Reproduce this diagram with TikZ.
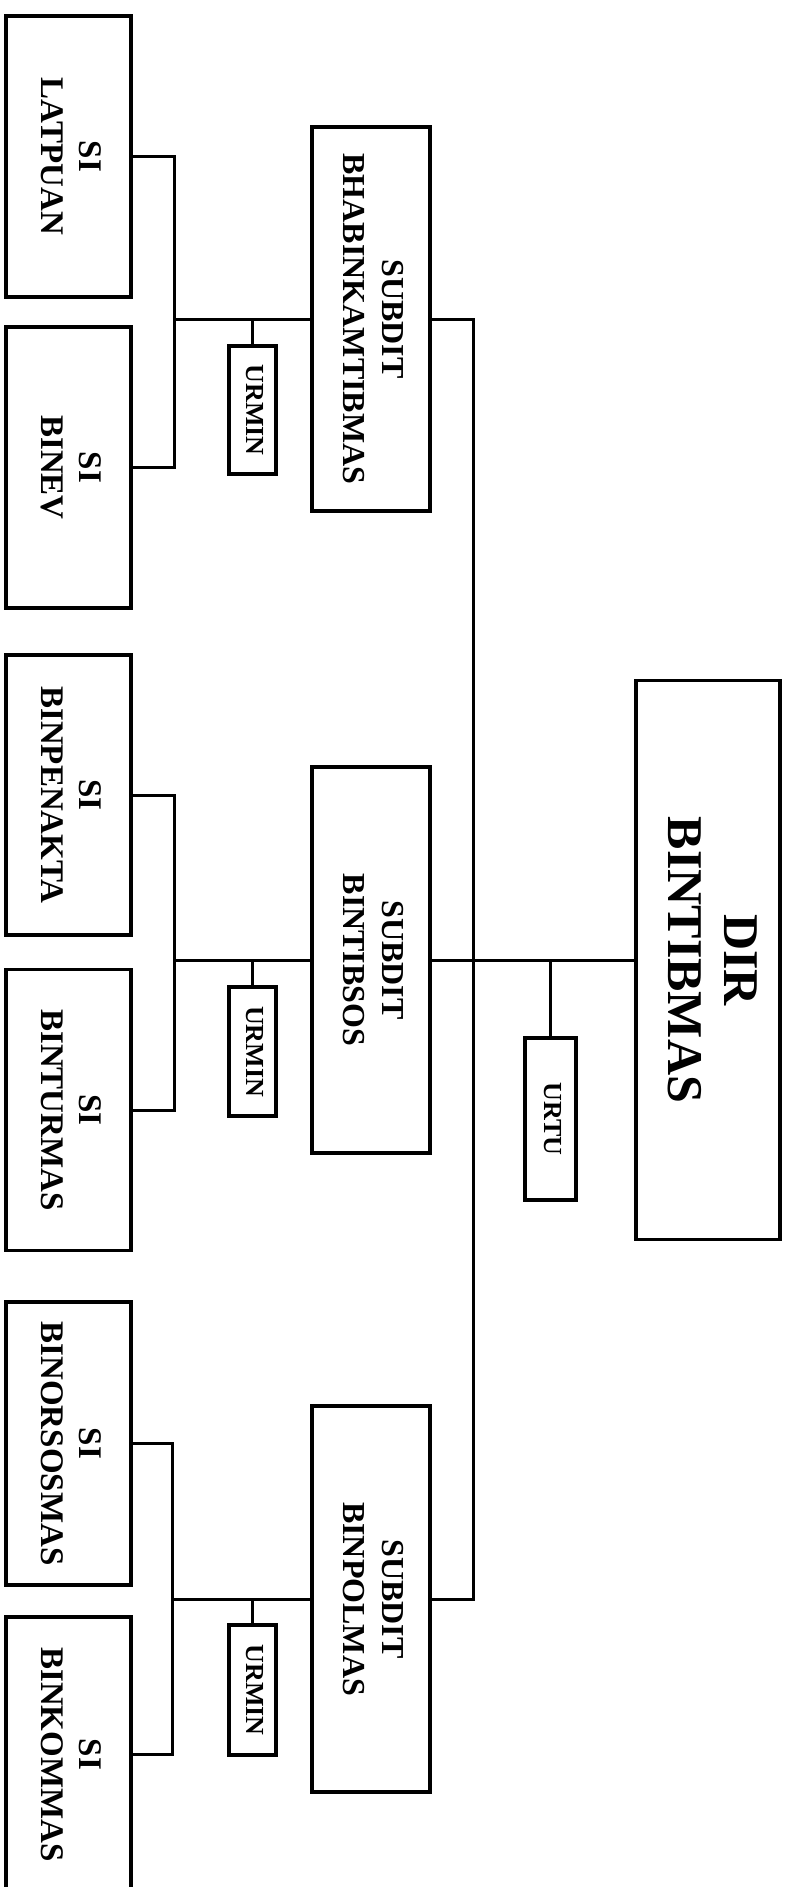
\documentclass[tikz,border=0pt]{standalone}
\usepackage{fontspec}
\setmainfont{Liberation Serif}
\usepackage{graphicx}
\newcommand\vtxt[3]{\rotatebox{-90}{\fontsize{#1}{#2}\selectfont\bfseries\begin{tabular}{@{}c@{}}#3\end{tabular}}}
\begin{document}
\begin{tikzpicture}[x=1pt,y=-1pt,
  box/.style={draw=black,line width=3.5pt,fill=white,inner sep=0pt,rectangle},
  ln/.style={line width=3pt,draw=black}]
\useasboundingbox (0,0) rectangle (787,1887);
\clip (0,0) rectangle (787,1887);
% Group 1
\node[box,minimum width=125pt,minimum height=281pt] (latpuan) at (68.5,156.5) {\vtxt{33}{38}{SI\\LATPUAN}};
\node[box,minimum width=125pt,minimum height=281pt] (binev) at (68.5,467.5) {\vtxt{33}{38}{SI\\BINEV}};
\node[box,minimum width=118pt,minimum height=384pt] (sub1) at (371,319) {\vtxt{32}{39}{SUBDIT\\BHABINKAMTIBMAS}};
\node[box,minimum width=47pt,minimum height=128pt] (urmin1) at (252.5,410) {\vtxt{26}{30}{URMIN}};
% Group 2
\node[box,minimum width=125pt,minimum height=280pt] (binpenakta) at (68.5,795) {\vtxt{33}{38}{SI\\BINPENAKTA}};
\node[box,minimum width=125pt,minimum height=281pt] (binturmas) at (68.5,1110) {\vtxt{33}{38}{SI\\BINTURMAS}};
\node[box,minimum width=118pt,minimum height=386pt] (sub2) at (371,960) {\vtxt{32}{39}{SUBDIT\\BINTIBSOS}};
\node[box,minimum width=47pt,minimum height=129pt] (urmin2) at (252.5,1051.5) {\vtxt{26}{30}{URMIN}};
\node[box,minimum width=144pt,minimum height=559pt] (dir) at (708,960) {\vtxt{50}{56}{DIR\\BINTIBMAS}};
\node[box,minimum width=51pt,minimum height=162pt] (urtu) at (550.5,1119) {\vtxt{26}{30}{URTU}};
% Group 3
\node[box,minimum width=125pt,minimum height=283pt] (binorsosmas) at (68.5,1443.5) {\vtxt{33}{38}{SI\\BINORSOSMAS}};
\node[box,minimum width=125pt,minimum height=275pt] (binkommas) at (68.5,1754.5) {\vtxt{33}{38}{SI\\BINKOMMAS}};
\node[box,minimum width=118pt,minimum height=386pt] (sub3) at (371,1599) {\vtxt{32}{39}{SUBDIT\\BINPOLMAS}};
\node[box,minimum width=47pt,minimum height=130pt] (urmin3) at (252.5,1690) {\vtxt{26}{30}{URMIN}};
% junctions
\coordinate (j1) at (174,319);
\coordinate (j2) at (174,960);
\coordinate (j3) at (172,1599);
\coordinate (t3) at (473,1599);
% connectors group 1
\draw[ln] (latpuan.east) -| (j1) |- (binev.east);
\draw[ln] (sub1.west) -- (j1);
\draw[ln] (urmin1.north) -- (urmin1.north |- j1);
% connectors group 2
\draw[ln] (binpenakta.east) -| (j2) |- (binturmas.east);
\draw[ln] (sub2.west) -- (j2);
\draw[ln] (urmin2.north) -- (urmin2.north |- j2);
\draw[ln] (sub2.east) -- (dir.west);
\draw[ln] (urtu.north) -- (urtu.north |- dir.west);
% connectors group 3
\draw[ln] (binorsosmas.east) -| (j3) |- (binkommas.east);
\draw[ln] (sub3.west) -- (j3);
\draw[ln] (urmin3.north) -- (urmin3.north |- j3);
% trunk
\draw[ln] (sub1.east) -| (t3) -- (sub3.east);
\end{tikzpicture}
\end{document}
